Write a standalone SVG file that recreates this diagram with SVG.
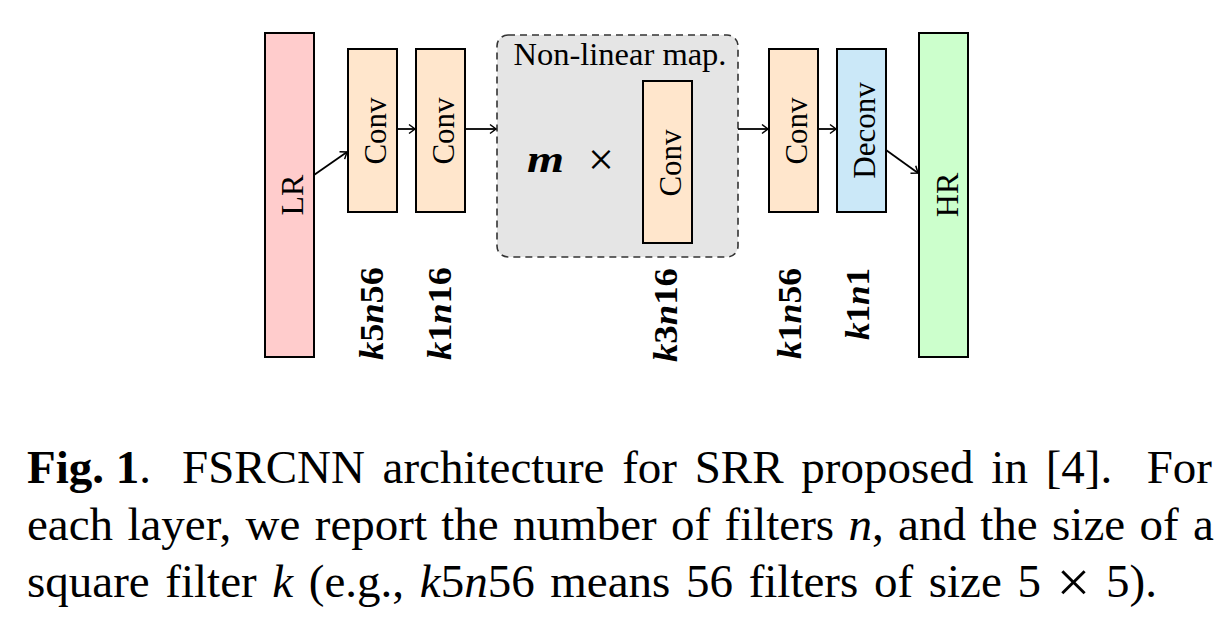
<svg xmlns="http://www.w3.org/2000/svg" width="1227" height="640" viewBox="0 0 1227 640">
<style>
.box{stroke:#000;stroke-width:2}
.lbl{font-family:"Liberation Serif",serif;font-size:31px;fill:#000}
.math{font-family:"Liberation Serif",serif;font-size:33px;font-weight:bold;fill:#000}
.cap{font-family:"Liberation Serif",serif;font-size:47px;fill:#000}
.conn{stroke:#000;stroke-width:1.8;fill:none;marker-end:url(#arr)}
</style>
<defs>
<marker id="arr" markerUnits="userSpaceOnUse" viewBox="-8 -6 10 12" refX="0" refY="0" markerWidth="10" markerHeight="12" orient="auto">
<path d="M-6,-4.5 Q-2,-1.5 0,0 Q-2,1.5 -6,4.5" fill="none" stroke="#000" stroke-width="1.5"/>
</marker>
</defs>
<rect width="1227" height="640" fill="#fff"/>
<g id="nonlinear">
<rect x="497" y="35" width="241" height="222" rx="11" fill="#E5E5E5" stroke="#333" stroke-width="1.6" stroke-dasharray="7,5"/>
<text class="lbl" x="620" y="65" text-anchor="middle" style="font-size:32.5px">Non-linear map.</text>
<text class="math" x="527" y="172" font-style="italic" style="font-size:38px" textLength="37" lengthAdjust="spacingAndGlyphs">m</text>
<text class="lbl" x="601" y="175" text-anchor="middle" style="font-size:46px">×</text>
</g>
<g id="lr">
<rect class="box" x="265" y="33" width="49" height="324" fill="#FFCCCC"/>
<text class="lbl" style="font-size:32px" text-anchor="middle" transform="translate(302.5,195) rotate(-90)">LR</text>
</g>
<g id="conv1">
<rect class="box" x="348" y="49" width="49" height="163" fill="#FFE6CC"/>
<text class="lbl" text-anchor="middle" transform="translate(386,131) rotate(-90)">Conv</text>
</g>
<g id="conv2">
<rect class="box" x="416" y="49" width="49" height="163" fill="#FFE6CC"/>
<text class="lbl" text-anchor="middle" transform="translate(454,131) rotate(-90)">Conv</text>
</g>
<g id="conv-map">
<rect class="box" x="643" y="81" width="49" height="162" fill="#FFE6CC"/>
<text class="lbl" text-anchor="middle" transform="translate(681,163) rotate(-90)">Conv</text>
</g>
<g id="conv3">
<rect class="box" x="769" y="49" width="49" height="163" fill="#FFE6CC"/>
<text class="lbl" text-anchor="middle" transform="translate(807,131) rotate(-90)">Conv</text>
</g>
<g id="deconv">
<rect class="box" x="837" y="49" width="49" height="163" fill="#CBE8F8"/>
<text class="lbl" text-anchor="middle" transform="translate(874.5,130.5) rotate(-90)">Deconv</text>
</g>
<g id="hr">
<rect class="box" x="919" y="33" width="49" height="324" fill="#CCFFCC"/>
<text class="lbl" style="font-size:32px" text-anchor="middle" transform="translate(957.5,195) rotate(-90)">HR</text>
</g>
<g id="connectors">
<line class="conn" x1="314" y1="175" x2="347" y2="152"/>
<line class="conn" x1="397" y1="129" x2="415" y2="129"/>
<line class="conn" x1="465" y1="129" x2="496" y2="129"/>
<line class="conn" x1="738" y1="129" x2="768" y2="129"/>
<line class="conn" x1="818" y1="129" x2="836" y2="129"/>
<line class="conn" x1="886" y1="150" x2="918" y2="173"/>
</g>
<g id="labels">
<text class="math" transform="translate(383,360) rotate(-90)" textLength="93" lengthAdjust="spacingAndGlyphs"><tspan font-style="italic">k</tspan>5<tspan font-style="italic">n</tspan>56</text>
<text class="math" transform="translate(451,360) rotate(-90)" textLength="93" lengthAdjust="spacingAndGlyphs"><tspan font-style="italic">k</tspan>1<tspan font-style="italic">n</tspan>16</text>
<text class="math" transform="translate(677,362) rotate(-90)" textLength="94" lengthAdjust="spacingAndGlyphs"><tspan font-style="italic">k</tspan>3<tspan font-style="italic">n</tspan>16</text>
<text class="math" transform="translate(801,359) rotate(-90)" textLength="91" lengthAdjust="spacingAndGlyphs"><tspan font-style="italic">k</tspan>1<tspan font-style="italic">n</tspan>56</text>
<text class="math" transform="translate(869,340) rotate(-90)" textLength="72" lengthAdjust="spacingAndGlyphs"><tspan font-style="italic">k</tspan>1<tspan font-style="italic">n</tspan>1</text>
</g>
<g id="caption">
<text class="cap" x="27" y="483"><tspan font-weight="bold">Fig. 1</tspan>.</text>
<text class="cap" x="182" y="483" word-spacing="6">FSRCNN architecture for SRR proposed in [4].</text>
<text class="cap" x="1212" y="483" text-anchor="end">For</text>
<text class="cap" x="27" y="540" word-spacing="2.6">each layer, we report the number of filters <tspan font-style="italic">n</tspan>, and the size of a</text>
<text class="cap" x="27" y="597" word-spacing="3.9">square filter <tspan font-style="italic">k</tspan> (e.g., <tspan font-style="italic">k</tspan>5<tspan font-style="italic">n</tspan>56 means 56 filters of size 5 <tspan style="font-size:60px" dy="5">×</tspan><tspan dy="-5"> 5).</tspan></text>
</g>
</svg>
